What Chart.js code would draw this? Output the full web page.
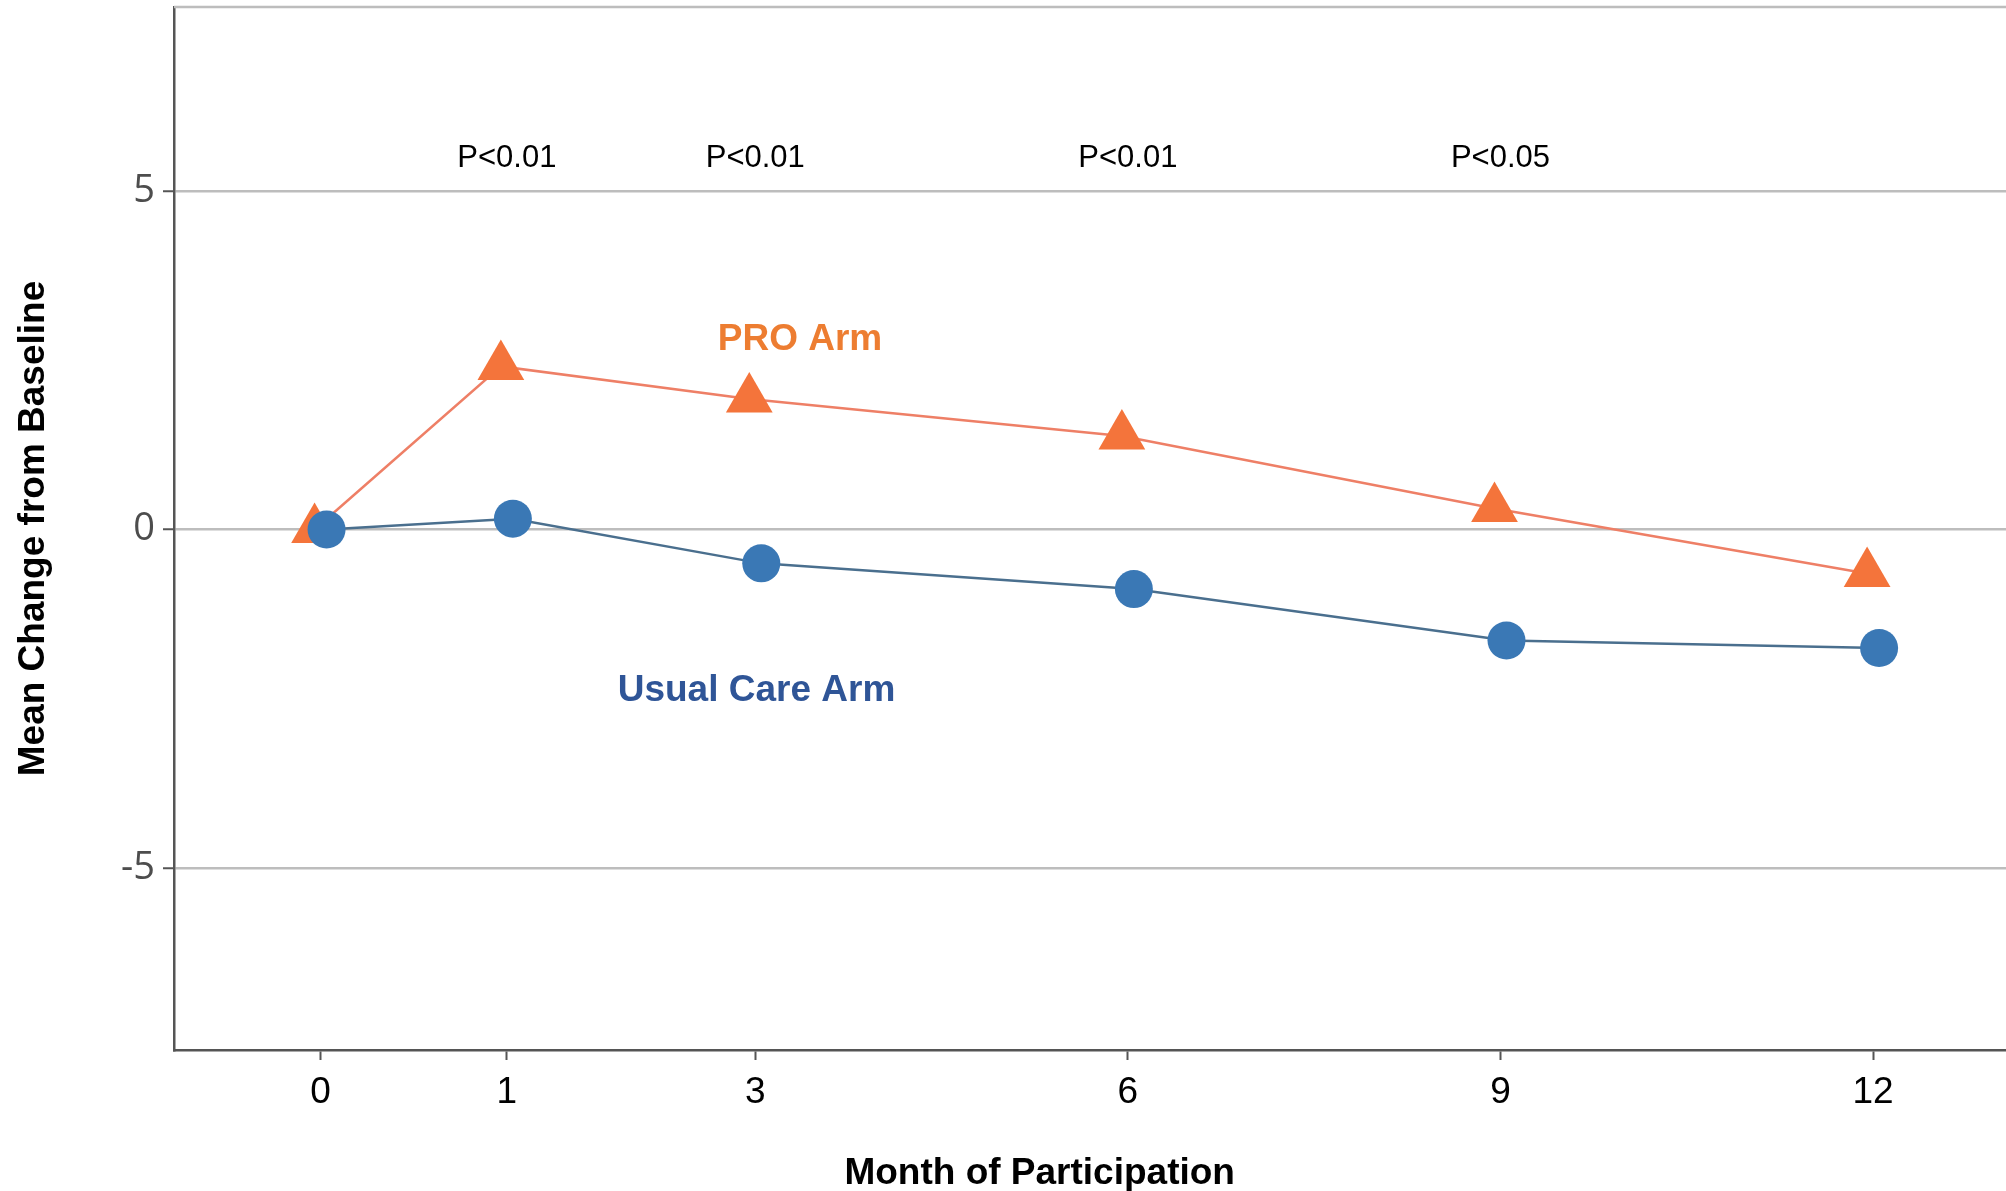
<!DOCTYPE html>
<html>
<head>
<meta charset="utf-8">
<title>Mean Change from Baseline</title>
<script src="https://cdn.jsdelivr.net/npm/chart.js@4.4.1/dist/chart.umd.min.js"></script>
<style>
    html, body { margin: 0; padding: 0; background: #fff; }
    #wrap { width: 2006px; height: 1191px; position: relative; }
</style>
</head>
<body>
<div id="wrap"><canvas id="changeChart"></canvas></div>
<script>
// month of participation and mean change from baseline for each arm
const months = [0, 1, 3, 6, 9, 12];
const proArm = [0, 2.41, 1.93, 1.38, 0.31, -0.65];
const usualCareArm = [0, 0.16, -0.50, -0.88, -1.64, -1.75];
const yTicks = [-5, 0, 5];

// significance of the difference between arms
const pMonths = [1, 3, 6, 9];
const pLabels = ['P<0.01', 'P<0.01', 'P<0.01', 'P<0.05'];

const ARIAL = '"Liberation Sans", Arial, sans-serif';

// linear month axis, with the baseline visit set a bit further out than the rest
class MonthScale extends Chart.LinearScale {
    static id = 'month';
    getPixelForValue(value) {
        const v = value < 1 ? 1 - (1 - value) * 1.5 : value;
        return super.getPixelForValue(v);
    }
    getValueForPixel(pixel) {
        const v = super.getValueForPixel(pixel);
        return v < 1 ? 1 - (1 - v) / 1.5 : v;
    }
}
Chart.register(MonthScale);

const annotate = {
    id: 'annotate',
    // nudge the two arms apart so overlapping markers stay visible
    afterDatasetsUpdate(chart) {
        chart.data.datasets.forEach((ds, i) => {
            const shift = ds.dodge || 0;
            chart.getDatasetMeta(i).data.forEach(pt => { pt.x += shift; });
        });
    },
    beforeDatasetsDraw(chart) {
        const { ctx, chartArea } = chart;
        ctx.save();
        ctx.strokeStyle = '#bdbdbd';
        ctx.lineWidth = 2.5;
        ctx.beginPath();
        ctx.moveTo(chartArea.left, chartArea.top);
        ctx.lineTo(chartArea.right, chartArea.top);
        ctx.stroke();
        ctx.restore();
    },
    afterDraw(chart) {
        const { ctx, scales: { x, y } } = chart;
        const ds = chart.data.datasets;
        ctx.save();
        ctx.textAlign = 'center';
        ctx.textBaseline = 'alphabetic';

        ctx.fillStyle = '#000';
        ctx.font = '31px ' + ARIAL;
        pMonths.forEach((m, i) => {
            ctx.fillText(pLabels[i], x.getPixelForValue(m), y.getPixelForValue(5.35));
        });

        ctx.font = 'bold 37px ' + ARIAL;
        ctx.fillStyle = '#ed7d31';
        ctx.fillText(ds[0].label, x.getPixelForValue(3.36), y.getPixelForValue(2.65));
        ctx.fillStyle = '#2f5597';
        ctx.fillText(ds[1].label, x.getPixelForValue(3.01), y.getPixelForValue(-2.53));

        ctx.fillStyle = '#000';
        ctx.fillText('Month of Participation', x.getPixelForValue(5.29), chart.height - 7);
        ctx.restore();
    }
};

new Chart(document.getElementById('changeChart'), {
    type: 'line',
    data: {
        datasets: [
            {
                label: 'PRO Arm',
                data: months.map((m, i) => ({ x: m, y: proArm[i] })),
                borderColor: '#ee7f66',
                borderWidth: 2.5,
                pointStyle: 'triangle',
                pointRadius: 27,
                pointBackgroundColor: '#f4743b',
                pointBorderWidth: 0,
                order: 1,
                dodge: -6
            },
            {
                label: 'Usual Care Arm',
                data: months.map((m, i) => ({ x: m, y: usualCareArm[i] })),
                borderColor: '#4a6f8e',
                borderWidth: 2.5,
                pointStyle: 'circle',
                pointRadius: 19,
                pointBackgroundColor: '#3a78b5',
                pointBorderWidth: 0,
                order: 0,
                dodge: 6
            }
        ]
    },
    options: {
        responsive: true,
        maintainAspectRatio: false,
        animation: false,
        devicePixelRatio: 1,
        layout: {
            autoPadding: false,
            padding: { top: 7, left: 0, right: 0, bottom: 0 }
        },
        plugins: {
            legend: { display: false },
            tooltip: { enabled: false }
        },
        scales: {
            x: {
                type: 'month',
                min: -1.68,
                max: 13.07,
                afterBuildTicks: s => { s.ticks = months.map(v => ({ value: v })); },
                afterFit: s => {
                    s.height = 141;
                    s.paddingLeft = 0;
                    s.paddingRight = 0;
                },
                ticks: {
                    color: '#000',
                    padding: 11,
                    font: { family: ARIAL, size: 37 },
                    callback: v => String(v)
                },
                grid: {
                    drawOnChartArea: false,
                    tickColor: '#555',
                    tickLength: 10,
                    tickWidth: 2
                },
                border: { color: '#555', width: 2.5 }
            },
            y: {
                min: -7.69,
                max: 7.72,
                afterBuildTicks: s => { s.ticks = yTicks.map(v => ({ value: v })); },
                afterFit: s => {
                    s.width = 174;
                    s.paddingTop = 0;
                    s.paddingBottom = 0;
                },
                ticks: {
                    color: '#4d4d4d',
                    padding: 8,
                    font: { family: '"Open Sans", sans-serif', size: 38 },
                    callback: v => String(v)
                },
                grid: {
                    color: '#bdbdbd',
                    lineWidth: 2.5,
                    tickColor: '#555',
                    tickLength: 11,
                    tickWidth: 2
                },
                border: { color: '#555', width: 2.5 },
                title: {
                    display: true,
                    text: 'Mean Change from Baseline',
                    color: '#000',
                    font: { family: ARIAL, size: 37, weight: 'bold' },
                    padding: { top: 12, bottom: 0 }
                }
            }
        }
    },
    plugins: [annotate]
});
</script>
</body>
</html>
